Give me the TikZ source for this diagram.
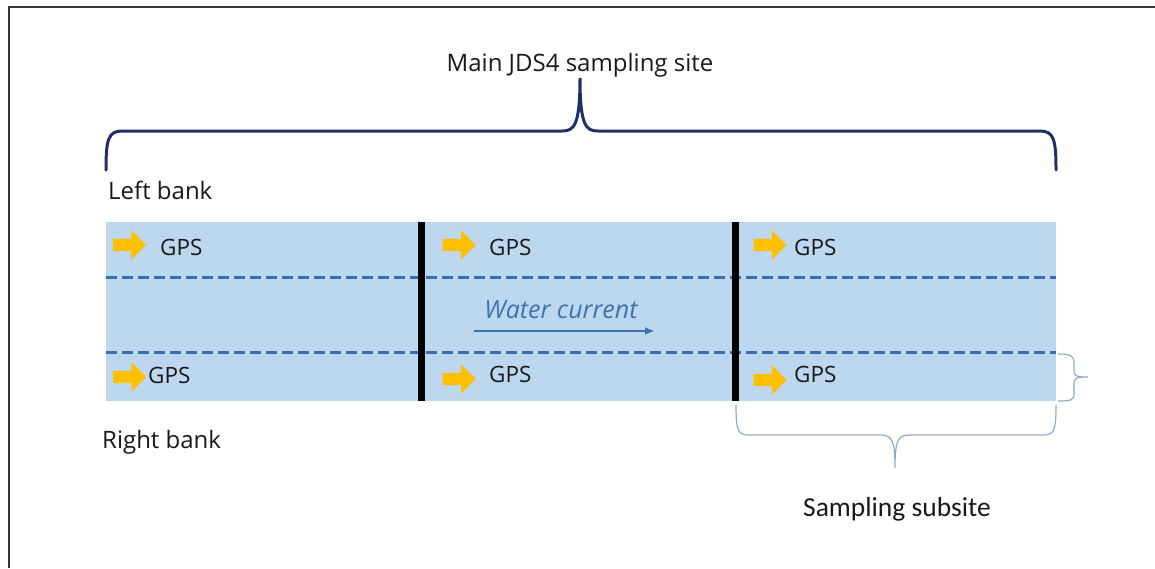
\documentclass[tikz,border=0pt]{standalone}
\usepackage{fontspec}
\setmainfont{Open Sans}
\newfontfamily\calib{Carlito}
\usetikzlibrary{shapes.arrows,arrows.meta}
\definecolor{river}{HTML}{BDD7EE}
\definecolor{lanecol}{HTML}{3A6FAE}
\definecolor{gold}{HTML}{FFC000}
\definecolor{navy}{HTML}{1F3066}
\definecolor{thinb}{HTML}{8FAACC}
\definecolor{curr}{HTML}{3C73B0}
\tikzset{
  gpsarrow/.style={single arrow, fill=gold, draw=none, minimum height=33pt, minimum width=29pt, inner sep=6pt, single arrow head extend=8.5pt, anchor=center},
  gpstext/.style={font=\fontsize{22.5}{26}\selectfont, text=black!90, inner sep=0pt},
  lbl/.style={font=\fontsize{24}{28}\selectfont, text=black!90, inner sep=0pt},
  divider/.style={line width=7pt, black},
  lane/.style={draw=lanecol, line width=3pt, dash pattern=on 11pt off 5pt},
  bigbrace/.style={draw=navy, line width=3pt, line cap=round},
  smallbrace/.style={draw=thinb, line width=1.2pt}
}
\begin{document}
\begin{tikzpicture}[x=1pt,y=-1pt]
\useasboundingbox (0,0) rectangle (1155,568);
% frame
\draw[black!80, line width=1.5pt] (9,568) -- (9,7) -- (1155,7);
% river
\fill[river] (106,222) rectangle (1056,401);
\draw[lane] (106,277) -- (1056,277);
\draw[lane] (106,352) -- (1056,352);
\draw[divider] (421,222) -- (421,401);
\draw[divider] (735,222) -- (735,401);
% GPS arrows & labels
\node[gpsarrow] (a1) at (126.5,245) {};
\node[gpstext, anchor=west] (g1) at (160,247) {GPS};
\node[gpsarrow] (a2) at (456,245) {};
\node[gpstext, anchor=west] (g2) at (489,247) {GPS};
\node[gpsarrow] (a3) at (767,245) {};
\node[gpstext, anchor=west] (g3) at (794,247) {GPS};
\node[gpsarrow] (a4) at (126.5,377) {};
\node[gpstext, anchor=west] (g4) at (148,375) {GPS};
\node[gpsarrow] (a5) at (456,379) {};
\node[gpstext, anchor=west] (g5) at (489,374) {GPS};
\node[gpsarrow] (a6) at (767,380) {};
\node[gpstext, anchor=west] (g6) at (794,374) {GPS};
% water current
\node[font=\fontsize{25}{29}\selectfont\itshape, text=curr, inner sep=0pt] (wc) at (561,310) {Water current};
\coordinate (wcs) at (474,331);
\coordinate (wce) at (655,331);
\draw[curr, line width=2.5pt, -{Latex[length=10pt,width=8pt]}] (wcs) -- (wce);
% labels
\node[lbl] (main) at (580,65) {Main JDS4 sampling site};
\node[lbl, anchor=west] (lb) at (108,190) {Left bank};
\node[lbl, anchor=west] (rb) at (102,442) {Right bank};
\node[font=\calib\fontsize{27.5}{32}\selectfont, text=black!90, inner sep=0pt] (ss) at (897,509) {Sampling subsite};
% big top brace
\draw[bigbrace] (106,170) .. controls (106,140) and (108,131) .. (122,131) -- (562,131)
  .. controls (574,131) and (580,126) .. (580,78)
  .. controls (580,126) and (586,131) .. (598,131) -- (1040,131)
  .. controls (1054,131) and (1056,140) .. (1056,170);
% small right brace
\draw[smallbrace] (1058,354) .. controls (1072,354) and (1074,356) .. (1074,364) -- (1074,370)
  .. controls (1074,376) and (1076,377) .. (1088,377)
  .. controls (1076,377) and (1074,378) .. (1074,384) -- (1074,393)
  .. controls (1074,400) and (1072,401) .. (1058,401);
% bottom brace
\draw[smallbrace] (736,405) .. controls (736,432) and (738,435) .. (750,435) -- (880,435)
  .. controls (892,435) and (895,440) .. (895,468)
  .. controls (895,440) and (898,435) .. (910,435) -- (1042,435)
  .. controls (1054,435) and (1056,432) .. (1056,405);
\end{tikzpicture}
\end{document}
